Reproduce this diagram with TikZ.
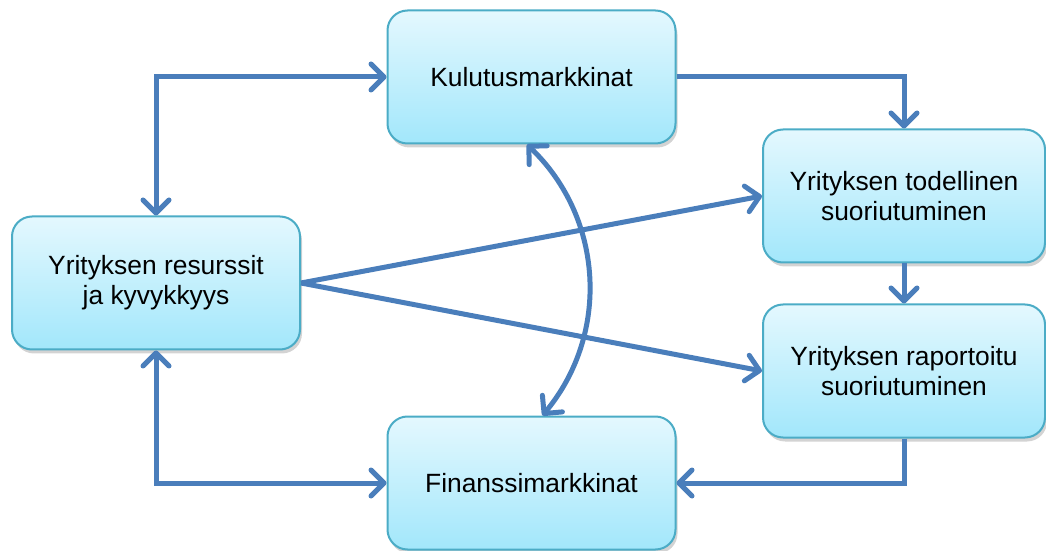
\documentclass[tikz,border=0pt]{standalone}
\usepackage{fontspec}
\setmainfont{Liberation Sans}
\usetikzlibrary{arrows.meta,shadows}
\definecolor{arrowblue}{HTML}{4A7EBB}
\definecolor{boxedge}{HTML}{4BACC6}
\definecolor{boxtop}{HTML}{E4F8FE}
\definecolor{boxbottom}{HTML}{A2E7FB}
\begin{document}
\begin{tikzpicture}[x=0.5pt,y=-0.5pt,
		box/.style={draw=boxedge, line width=1pt, rounded corners=10pt, top color=boxtop, bottom color=boxbottom,
			minimum width=144pt, minimum height=66.5pt, align=center, font=\fontsize{13.2}{15}\selectfont,
			drop shadow={shadow xshift=1pt, shadow yshift=-2pt, opacity=0.35}},
		link/.style={draw=arrowblue, line width=2.5pt, -{Straight Barb[length=6.5pt,width=13pt,round]}},
		twolink/.style={link, {Straight Barb[length=6.5pt,width=13pt,round]}-{Straight Barb[length=6.5pt,width=13pt,round]}}]
		\useasboundingbox ( 0, 0 ) rectangle ( 1046, 551 );
		\node [box] (kul) at ( 531.5, 77 ) {Kulutusmarkkinat};
		\node [box] (fin) at ( 531.5, 483 ) {Finanssimarkkinat};
		\node [box] (res) at ( 156, 283 ) {Yrityksen resurssit\\ja kyvykkyys};
		\node [box, minimum width=141pt] (tod) at ( 904, 196 ) {Yrityksen todellinen\\suoriutuminen};
		\node [box, minimum width=141pt] (rap) at ( 904, 371 ) {Yrityksen raportoitu\\suoriutuminen};
		\draw [twolink] (res.north) |- (kul.west);
		\draw [link] (kul.east) -| (tod.north);
		\draw [link] (tod.south) -- (rap.north);
		\draw [link] (rap.south) |- (fin.east);
		\draw [twolink] (res.south) |- (fin.west);
		\draw [link] (res.east) -- (tod.west);
		\draw [link] (res.east) -- (rap.west);
		\draw [twolink] ([xshift=-2.25pt]kul.south) to [bend left=43] ([xshift=5.5pt]fin.north);
	\end{tikzpicture}
\end{document}
